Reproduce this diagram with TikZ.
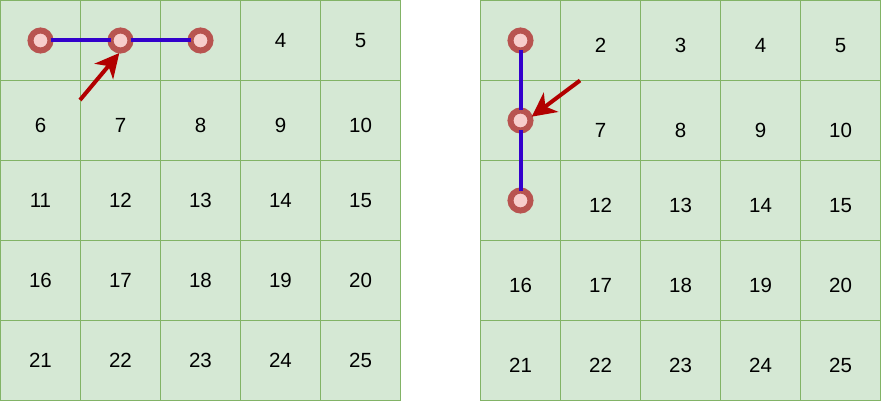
\documentclass[tikz,border=0pt]{standalone}
\usepackage{fontspec}
\setmainfont{Liberation Sans}
\usetikzlibrary{arrows.meta}
\definecolor{cellfill}{HTML}{D5E8D4}
\definecolor{cellline}{HTML}{82B366}
\definecolor{ringline}{HTML}{B85450}
\definecolor{ringfill}{HTML}{F8CECC}
\definecolor{pathblue}{HTML}{3300CC}
\definecolor{arrowred}{HTML}{B20000}
\tikzset{
  cellbox/.style={fill=cellfill,draw=cellline,line width=1pt},
  numtext/.style={font=\fontsize{20.5}{24}\selectfont,inner sep=0pt,anchor=center},
  ring/.style={circle,draw=ringline,fill=ringfill,line width=6pt,minimum size=20pt,inner sep=0pt,outer sep=0pt},
  bluelink/.style={draw=pathblue,line width=4pt},
  redarrow/.style={draw=arrowred,line width=4pt,-{Stealth[length=24pt,width=24pt,inset=7pt]}}
}
\begin{document}
\begin{tikzpicture}[x=1pt,y=-1pt]
\useasboundingbox (0,0) rectangle (881,401);
% grids
\foreach \gx in {0,480}{
  \foreach \i in {0,...,4}{
    \foreach \j in {0,...,4}{
      \draw[cellbox] (\gx+0.5+80*\i,0.5+80*\j) rectangle ++(80,80);
    }
  }
}
% left grid numbers
\foreach \n in {4,...,25}{
  \pgfmathtruncatemacro{\c}{mod(\n-1,5)}
  \pgfmathtruncatemacro{\r}{int((\n-1)/5)}
  \pgfmathsetmacro{\yy}{\r==0 ? 40.5 : (\r==1 ? 125.5 : 80*\r+40.5)}
  \node[numtext] (L\n) at (80*\c+40.5,\yy) {\n};
}
% right grid numbers
\foreach \n in {2,3,4,5,7,8,9,10,12,13,14,15,16,17,18,19,20,21,22,23,24,25}{
  \pgfmathtruncatemacro{\c}{mod(\n-1,5)}
  \pgfmathtruncatemacro{\r}{int((\n-1)/5)}
  \pgfmathsetmacro{\yy}{\r==1 ? 130.5 : 80*\r+45.5}
  \node[numtext] (R\n) at (480+80*\c+40.5,\yy) {\n};
}
% left rings and links
\node[ring] (la) at (40.5,40.5) {};
\node[ring] (lb) at (120.5,40.5) {};
\node[ring] (lc) at (200.5,40.5) {};
\draw[bluelink] (la) -- (lb);
\draw[bluelink] (lb) -- (lc);
\coordinate (ltail) at (80,100);
\coordinate (ltip) at (119.3,53);
\draw[redarrow] (ltail) -- (ltip);
% right rings and links
\node[ring] (ra) at (520.5,40.5) {};
\node[ring] (rb) at (520.5,120.5) {};
\node[ring] (rc) at (520.5,200.5) {};
\draw[bluelink] (ra) -- (rb);
\draw[bluelink] (rb) -- (rc);
\coordinate (rtail) at (580,80.5);
\coordinate (rtip) at (531.7,116.7);
\draw[redarrow] (rtail) -- (rtip);
\end{tikzpicture}
\end{document}
